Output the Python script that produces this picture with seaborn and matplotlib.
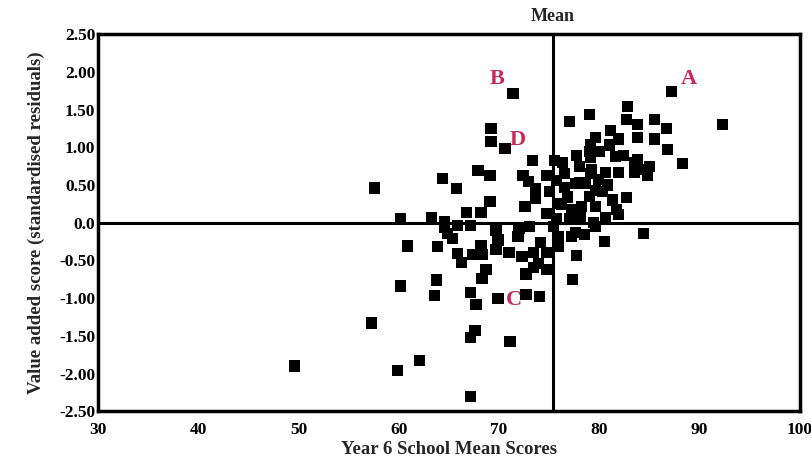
import matplotlib
matplotlib.use("Agg")
import matplotlib.pyplot as plt
import seaborn as sns
import pandas as pd

# Year 6 school mean scores and value-added scores (standardised residuals)
mean_scores = [
    49.6, 57.3, 57.6, 59.9, 60.2, 60.2, 60.9, 62.1, 63.3, 63.6, 63.8, 63.9, 64.4, 64.6, 64.6,
    64.9, 65.4, 65.8, 65.9, 65.9, 66.3,
    66.8, 67.2, 67.2, 67.2, 67.2, 67.6, 67.7, 67.4, 67.9, 68.2, 68.2, 68.3, 68.3, 68.7, 69.1,
    69.1, 69.2, 69.2, 69.7, 69.9, 69.7, 69.9, 70.6, 71.0, 71.1, 71.4, 71.9, 72.0,
    72.3, 72.4, 72.6, 72.7, 72.7, 72.9, 73.0, 73.3, 73.4, 73.4, 73.6, 73.6, 73.9, 74.0, 74.1,
    74.7, 74.7, 74.7, 74.7, 75.0, 75.4, 75.5, 75.7, 75.7, 75.9, 75.9, 75.9,
    76.3, 76.5, 76.5, 76.8, 76.2, 77.0, 77.0, 77.2, 77.2, 77.3, 77.6, 77.7, 77.7, 77.5, 77.6,
    78.0, 78.0, 78.1, 78.2, 78.5, 78.6, 79.0, 79.0, 79.0, 79.1, 79.1, 79.1, 79.2, 79.4, 79.6,
    79.6, 79.6, 79.6, 79.9,
    80.0, 80.3, 80.5, 80.6, 80.6, 80.8, 81.0, 81.1, 81.3, 81.6, 81.7, 81.9, 81.9, 81.9, 82.4,
    82.7, 82.7, 82.8, 83.5, 83.5, 83.8, 83.8, 83.8, 84.4, 84.5, 84.8, 85.0, 85.5, 85.5, 86.7,
    86.8, 87.2, 88.3, 92.3,
]
value_added = [
    -1.90, -1.33, 0.46, -1.96, -0.84, 0.06, -0.31, -1.83, 0.07, -0.97, -0.76, -0.32, 0.59, 0.02, -0.06,
    -0.14, -0.21, 0.45, -0.04, -0.41, -0.53,
    0.14, -0.04, -0.93, -1.52, -2.30, -1.43, -1.08, -0.42, 0.69, 0.14, -0.30, -0.42, -0.74, -0.62, 0.62,
    0.28, 1.25, 1.08, -0.10, -0.23, -0.36, -1.01, 0.98, -0.40, -1.58, 1.71, -0.18, -0.08,
    -0.45, 0.63, 0.21, -0.95, -0.68, 0.54, -0.05, 0.82, -0.60, -0.40, 0.32, 0.45, -0.54, -0.98, -0.26,
    0.63, -0.62, -0.40, 0.12, 0.41, -0.05, 0.82, 0.56, 0.06, 0.25, -0.32, -0.18,
    0.80, 0.65, 0.47, 0.34, 0.24, 1.34, 0.06, 0.17, -0.18, -0.75, -0.13, 0.89, -0.43, 0.13, 0.52,
    0.74, 0.53, 0.08, 0.21, -0.16, 0.52, 1.43, 0.94, 0.35, 1.04, 0.87, 0.65, 0.70, 0.00, 1.13,
    0.43, 0.21, -0.05, 0.57,
    0.94, 0.41, -0.25, 0.66, 0.07, 0.50, 1.03, 1.22, 0.30, 0.88, 0.17, 1.11, 0.66, 0.11, 0.89,
    1.37, 0.33, 1.54, 0.80, 0.67, 1.30, 1.13, 0.84, -0.14, 0.71, 0.62, 0.74, 1.37, 1.11, 1.25,
    0.97, 1.74, 0.78, 1.30,
]
overall_mean = 75.4
label_text = ["A", "B", "C", "D"]
label_x = [88.9, 69.8, 71.5, 71.9]
label_y = [1.90, 1.90, -1.02, 1.09]
x_ticks = [30, 40, 50, 60, 70, 80, 90, 100]
y_ticks = [2.5, 2.0, 1.5, 1.0, 0.5, 0.0, -0.5, -1.0, -1.5, -2.0, -2.5]
y_tick_labels = ["2.50", "2.00", "1.50", "1.00", "0.50", "0.0", "-0.50", "-1.00", "-1.50", "-2.00", "-2.50"]

df = pd.DataFrame({"score": mean_scores, "va": value_added})

sns.set_theme(style="white")
plt.rcParams["font.family"] = ["Liberation Serif", "DejaVu Serif"]

fig = plt.figure(figsize=(8.11, 4.61), dpi=100)
ax = fig.add_axes([0.121, 0.108, 0.865, 0.818])

sns.scatterplot(data=df, x="score", y="va", marker="s", s=64, color="black",
                edgecolor="none", linewidth=0, ax=ax, zorder=3)

ax.axhline(0, color="black", lw=2.2, zorder=2)
ax.axvline(overall_mean, color="black", lw=2.2, zorder=2)

for t, lx, ly in zip(label_text, label_x, label_y):
    ax.text(lx, ly, t, color="#C8285A", fontsize=16, fontweight="bold",
            ha="center", va="center", zorder=4)

ax.text(overall_mean, 1.025, "Mean", transform=ax.get_xaxis_transform(),
        ha="center", va="bottom", fontsize=13, fontweight="bold")

ax.set_xlim(30, 100)
ax.set_ylim(-2.5, 2.5)
ax.set_xticks(x_ticks)
ax.set_xticklabels([str(v) for v in x_ticks])
ax.set_yticks(y_ticks)
ax.set_yticklabels(y_tick_labels)
ax.tick_params(axis="both", direction="in", length=5, width=2.2, colors="black",
               labelsize=12.5)
ax.tick_params(axis="x", pad=8)
ax.tick_params(axis="y", pad=2)
for lab in ax.get_xticklabels() + ax.get_yticklabels():
    lab.set_fontweight("bold")

ax.set_xlabel("Year 6 School Mean Scores", fontsize=13.5, fontweight="bold", labelpad=2)
ax.set_ylabel("Value added score (standardised residuals)", fontsize=13.5,
              fontweight="bold", labelpad=10)

for sp in ax.spines.values():
    sp.set_color("black")
    sp.set_linewidth(2.5)
    sp.set_visible(True)

fig.savefig("out.png", dpi=100, facecolor="white")
